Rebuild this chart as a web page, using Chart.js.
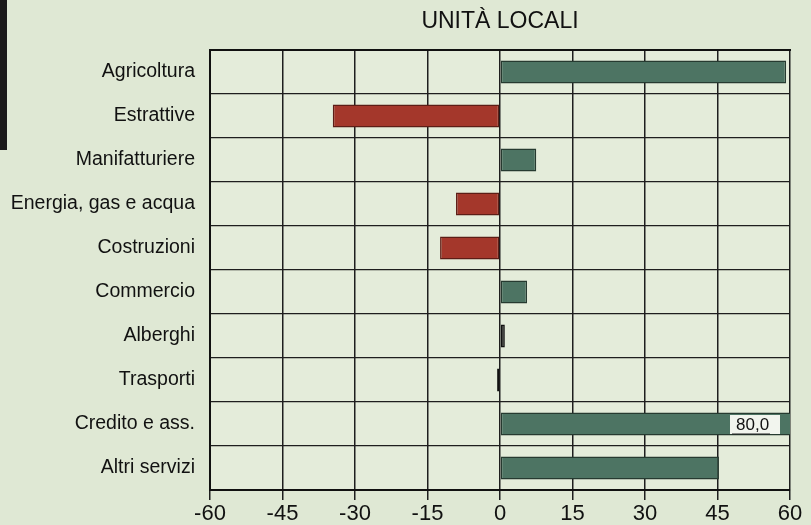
<!DOCTYPE html>
<html>
<head>
<meta charset="utf-8">
<script src="https://cdn.jsdelivr.net/npm/chart.js@4"></script>
<style>
  html, body { margin: 0; padding: 0; background: #dfe8d4; }
  #wrap { position: relative; width: 811px; height: 525px; }
  #scanEdge { position: absolute; left: 0; top: 0; width: 7px; height: 150px; background: #1a1a1a; }
</style>
</head>
<body>
<div id="wrap">
  <div id="scanEdge"></div>
  <canvas id="chartCanvas" width="811" height="525"></canvas>
</div>
<script>
const chartCanvas = document.getElementById('chartCanvas');

const titleText = 'UNITÀ LOCALI';
const sectors = ['Agricoltura', 'Estrattive', 'Manifatturiere', 'Energia, gas e acqua',
  'Costruzioni', 'Commercio', 'Alberghi', 'Trasporti', 'Credito e ass.', 'Altri servizi'];
const changes = [59.2, -34.6, 7.5, -9.1, -12.4, 5.6, 1.0, -0.6, 80.0, 45.3];
const xTicks = [-60, -45, -30, -15, 0, 15, 30, 45, 60];
const clippedLabel = '80,0';

const fontFamily = '"Liberation Sans", Arial, sans-serif';

function barColor(v) {
  if (Math.abs(v) < 2) return '#1b1b1b';
  return v < 0 ? '#a4372b' : '#4d7463';
}
function barBorder(v) {
  if (Math.abs(v) < 2) return '#111';
  return v < 0 ? '#5c1d16' : '#263a30';
}

const paperPlugin = {
  id: 'paper',
  beforeDraw(chart) {
    const { ctx, chartArea: a } = chart;
    ctx.save();
    ctx.fillStyle = '#e4ecda';
    ctx.fillRect(a.left, a.top, a.right - a.left, a.bottom - a.top);
    ctx.restore();
  },
  afterDraw(chart) {
    const { ctx, chartArea: a, scales } = chart;
    ctx.save();
    // title centred over the plot
    ctx.fillStyle = '#111';
    ctx.font = '23px ' + fontFamily;
    ctx.textAlign = 'center';
    ctx.textBaseline = 'middle';
    ctx.fillText(titleText, (a.left + a.right) / 2, 22);
    // label for the clipped bar
    const idx = changes.findIndex(v => v > scales.x.max);
    if (idx >= 0) {
      const y = scales.y.getPixelForValue(idx);
      const x1 = a.right - 10;
      const x0 = x1 - 50;
      ctx.fillStyle = '#f2f5ee';
      ctx.fillRect(x0, y - 9, 50, 19);
      ctx.fillStyle = '#111';
      ctx.font = '17px ' + fontFamily;
      ctx.textAlign = 'left';
      ctx.fillText(clippedLabel, x0 + 6, y + 1);
      ctx.strokeStyle = '#222';
      ctx.lineWidth = 1;
      ctx.beginPath();
      ctx.moveTo(x0 + 2, y + 10);
      ctx.lineTo(x0 + 40, y + 10);
      ctx.stroke();
    }
    ctx.restore();
  }
};

new Chart(chartCanvas, {
  type: 'bar',
  data: {
    labels: sectors,
    datasets: [{
      data: changes,
      backgroundColor: changes.map(barColor),
      borderColor: changes.map(barBorder),
      borderWidth: 1.5,
      borderSkipped: false,
      barPercentage: 0.52,
      categoryPercentage: 1
    }]
  },
  options: {
    indexAxis: 'y',
    responsive: false,
    animation: false,
    devicePixelRatio: 1,
    layout: { padding: { top: 50, right: 21, left: 0, bottom: 0 } },
    plugins: {
      legend: { display: false },
      tooltip: { enabled: false },
      title: { display: false }
    },
    scales: {
      x: {
        min: -60,
        max: 60,
        afterBuildTicks(scale) { scale.ticks = xTicks.map(v => ({ value: v })); },
        afterFit(scale) { scale.height = 35; },
        grid: { color: '#1e1e1e', lineWidth: 1.5, tickLength: 10, tickColor: '#1e1e1e' },
        border: { color: '#111', width: 2 },
        ticks: {
          color: '#111',
          padding: 1,
          font: { size: 22, family: fontFamily },
          callback: v => String(v)
        }
      },
      y: {
        afterFit(scale) { scale.width = 210; },
        grid: { offset: true, color: '#1e1e1e', lineWidth: 1.3, drawTicks: false },
        border: { color: '#111', width: 2 },
        ticks: {
          color: '#111',
          padding: 15,
          font: { size: 19.5, family: fontFamily }
        }
      },
      x2: {
        position: 'top',
        min: -60,
        max: 60,
        display: true,
        afterFit(scale) { scale.height = 0; },
        grid: { display: false },
        border: { color: '#111', width: 2 },
        ticks: { display: false }
      }
    }
  },
  plugins: [paperPlugin]
});
</script>
</body>
</html>
